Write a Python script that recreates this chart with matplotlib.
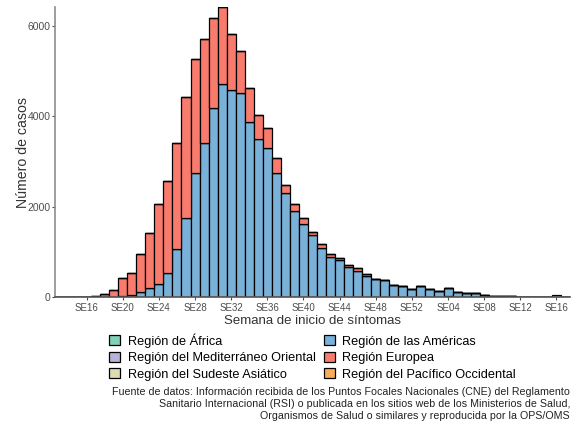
import numpy as np
import matplotlib
matplotlib.use("Agg")
import matplotlib.pyplot as plt

plt.rcParams['font.family'] = ['Liberation Sans', 'DejaVu Sans']

# Semanas epidemiológicas: SE13 (2020) a SE17 (2021)
weeks = [f"SE{w:02d}" for w in range(13, 53)] + [f"SE{w:02d}" for w in range(1, 18)]

africa = [0] * 43 + [20] + [0] * 13

americas = [0, 0, 0, 0, 0, 5, 10, 15, 55, 107, 204, 293, 533, 1055, 1755,
            2738, 3404, 4195, 4715, 4589, 4515, 3871, 3493, 3300, 2751, 2306,
            1906, 1627, 1367, 1093, 884, 811, 662, 573, 471, 389, 382, 256,
            233, 182,
            235, 182, 135, 190, 115, 88, 84, 45, 27, 20, 18, 8, 5, 3, 3, 5, 0]

mediterraneo = [0] * 57

europa = [5, 10, 5, 5, 20, 60, 145, 400, 483, 837, 1223, 1778, 2034, 2367,
          2685, 2539, 2318, 1987, 1711, 1244, 947, 755, 540, 437, 333, 172,
          165, 124, 73, 74, 60, 51, 54, 67, 45, 10, 5, 0, 0, 0,
          0, 0, 0, 0, 0, 0, 0, 0, 0, 0, 0, 0, 0, 0, 0, 0, 0]

sudeste = [0] * 57

pacifico = [0] * 55 + [40, 0]

series = [
    ("Región de África", africa, "#7fd1b9"),
    ("Región de las Américas", americas, "#7ab1d8"),
    ("Región del Mediterráneo Oriental", mediterraneo, "#b9b1d9"),
    ("Región Europea", europa, "#f97b6d"),
    ("Región del Sudeste Asiático", sudeste, "#dcdbb4"),
    ("Región del Pacífico Occidental", pacifico, "#fbaa5a"),
]

fig = plt.figure(figsize=(5.74, 4.23), dpi=100)
ax = fig.add_axes([55 / 574, 1 - 297 / 423, 515 / 574, 290 / 423])

x = np.arange(len(weeks))
bottom = np.zeros(len(weeks))
handles = {}
for name, vals, col in series:
    vals = np.array(vals, dtype=float)
    b = ax.bar(x, vals, bottom=bottom, width=1.0, color=col,
               edgecolor="black", linewidth=0.9, label=name)
    handles[name] = b
    bottom += vals

ax.set_xlim(-0.5, len(weeks) - 0.5)
ax.set_ylim(0, bottom.max())

tick_idx = x[3::4]
ax.set_xticks(tick_idx)
ax.set_xticklabels([weeks[i] for i in tick_idx])
ax.set_yticks([0, 2000, 4000, 6000])
ax.tick_params(axis="x", length=2, pad=2, labelsize=7, colors="#4d4d4d")
ax.tick_params(axis="y", length=2, pad=1, labelsize=7.5, colors="#4d4d4d")

for s in ["top", "right"]:
    ax.spines[s].set_visible(False)
ax.spines["left"].set_color("#8c8c8c")
ax.spines["bottom"].set_color("#555555")
ax.spines["left"].set_linewidth(1.2)
ax.spines["bottom"].set_linewidth(1.2)

ax.set_xlabel("Semana de inicio de síntomas", fontsize=9.5, color="#333333", labelpad=2)
ax.set_ylabel("Número de casos", fontsize=10.2, color="#333333", labelpad=-1.5)

order = ["Región de África", "Región del Mediterráneo Oriental",
         "Región del Sudeste Asiático", "Región de las Américas",
         "Región Europea", "Región del Pacífico Occidental"]
fig.legend([handles[n] for n in order], order, ncol=2, frameon=False,
           loc="upper left", bbox_to_anchor=(109 / 574, 1 - 333 / 423),
           fontsize=9.2, handlelength=0.85, handleheight=0.85,
           handletextpad=0.6, labelspacing=0.32, columnspacing=0.65,
           borderpad=0, borderaxespad=0)

fig.text(570 / 574, 1 - 404 / 423,
         "Fuente de datos: Información recibida de los Puntos Focales Nacionales (CNE) del Reglamento\n"
         "Sanitario Internacional (RSI) o publicada en los sitios web de los Ministerios de Salud,\n"
         "Organismos de Salud o similares y reproducida por la OPS/OMS",
         ha="right", va="center", multialignment="right", fontsize=7.65,
         color="#222222", linespacing=1.22)

fig.savefig("out.png", dpi=100)
